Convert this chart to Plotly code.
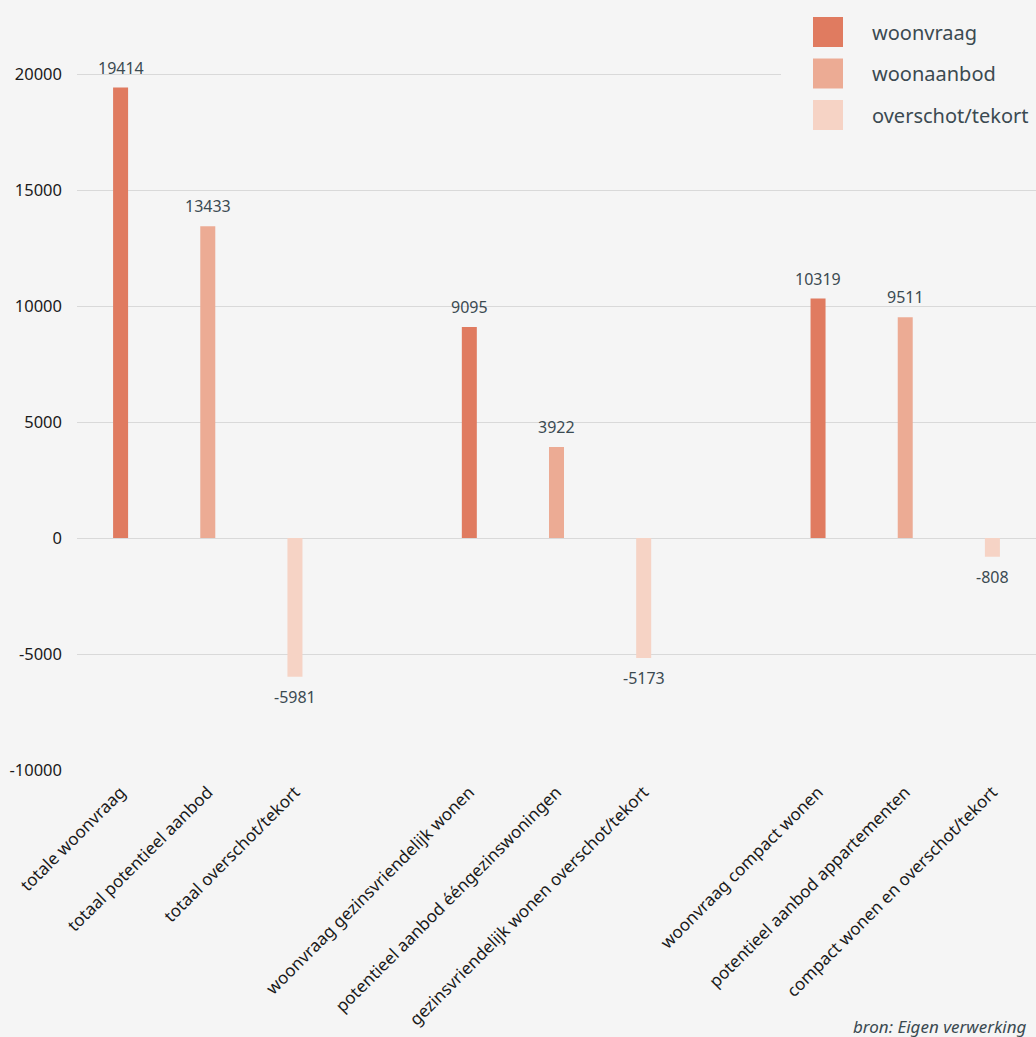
import plotly.graph_objects as go

# Category order on the x axis (blank entries separate the three groups)
categories = [
    "totale woonvraag",
    "totaal potentieel aanbod",
    "totaal overschot/tekort",
    " ",
    "woonvraag gezinsvriendelijk wonen",
    "potentieel aanbod ééngezinswoningen",
    "gezinsvriendelijk wonen overschot/tekort",
    "  ",
    "woonvraag compact wonen",
    "potentieel aanbod appartementen",
    "compact wonen en overschot/tekort",
]

series_names = ["woonvraag", "woonaanbod", "overschot/tekort"]
series_colors = ["#E07B60", "#ECAB94", "#F6D3C5"]

woonvraag_x = ["totale woonvraag", "woonvraag gezinsvriendelijk wonen", "woonvraag compact wonen"]
woonvraag_y = [19414, 9095, 10319]

woonaanbod_x = ["totaal potentieel aanbod", "potentieel aanbod ééngezinswoningen", "potentieel aanbod appartementen"]
woonaanbod_y = [13433, 3922, 9511]

saldo_x = ["totaal overschot/tekort", "gezinsvriendelijk wonen overschot/tekort", "compact wonen en overschot/tekort"]
saldo_y = [-5981, -5173, -808]

y_ticks = [-10000, -5000, 0, 5000, 10000, 15000, 20000]
source_text = "bron: Eigen verwerking"

FONT = "Noto Sans"
TEXT_COLOR = "#3B4A51"
BG = "#F5F5F5"

W, H = 1036, 1037
M_L, M_R, M_T, M_B = 77, 0, 0, 267
plot_h = H - M_T - M_B

fig = go.Figure()
annotations = []
for name, color, xs, ys in zip(series_names, series_colors,
                                [woonvraag_x, woonaanbod_x, saldo_x],
                                [woonvraag_y, woonaanbod_y, saldo_y]):
    fig.add_trace(go.Bar(
        x=xs, y=ys, name=name, marker=dict(color=color, line=dict(width=0)),
        width=0.172, showlegend=False, hoverinfo="x+y",
    ))
    # value labels above positive bars, below negative ones
    for xv, yv in zip(xs, ys):
        annotations.append(dict(
            x=xv, y=yv, xref="x", yref="y", text=str(yv), showarrow=False,
            yanchor="bottom" if yv >= 0 else "top",
            yshift=7 if yv >= 0 else -7,
            font=dict(family=FONT, size=16, color=TEXT_COLOR),
        ))

def px_to_paper_x(px):
    return (px - M_L) / (W - M_L - M_R)

def px_to_paper_y(py):
    return 1 - (py - M_T) / plot_h

# Legend: square swatches with labels in the top-right corner
shapes = [dict(
    type="rect", xref="paper", yref="paper",
    x0=px_to_paper_x(781), x1=px_to_paper_x(W), y0=px_to_paper_y(145), y1=px_to_paper_y(3),
    fillcolor=BG, line=dict(width=0), layer="above",
)]
for i, (name, color) in enumerate(zip(series_names, series_colors)):
    top = 17 + i * 41.5
    shapes.append(dict(
        type="rect", xref="paper", yref="paper",
        x0=px_to_paper_x(813), x1=px_to_paper_x(843),
        y0=px_to_paper_y(top + 30), y1=px_to_paper_y(top),
        fillcolor=color, line=dict(width=0), layer="above",
    ))
    annotations.append(dict(
        x=px_to_paper_x(870), y=px_to_paper_y(top + 15), xref="paper", yref="paper",
        text=name, showarrow=False, xanchor="left", yanchor="middle",
        font=dict(family=FONT, size=20, color=TEXT_COLOR),
    ))

annotations.append(dict(
    x=px_to_paper_x(851), y=px_to_paper_y(1026), xref="paper", yref="paper",
    text="<i>" + source_text + "</i>", showarrow=False, xanchor="left", yanchor="middle",
    font=dict(family=FONT, size=17, color=TEXT_COLOR),
))

fig.update_layout(
    width=W, height=H,
    margin=dict(l=M_L, r=M_R, t=M_T, b=M_B, pad=0),
    paper_bgcolor=BG, plot_bgcolor=BG,
    barmode="overlay",
    font=dict(family=FONT, color="#1A1A1A"),
    shapes=shapes, annotations=annotations,
    xaxis=dict(
        type="category", categoryorder="array", categoryarray=categories,
        range=[-0.5, len(categories) - 0.5],
        tickangle=-45, tickfont=dict(family=FONT, size=17, color="#1A1A1A"),
        showgrid=False, zeroline=False, showline=False, ticks="",
        ticklabelstandoff=8,
    ),
    yaxis=dict(
        range=[-10000, 23190], tickvals=y_ticks, ticktext=[str(v) for v in y_ticks],
        tickfont=dict(family=FONT, size=16.5, color="#1A1A1A"),
        showgrid=True, gridcolor="#D9D9D9", gridwidth=1.3,
        zeroline=False, showline=False, ticks="", ticklabelstandoff=14,
    ),
)

fig.write_html("out.html")
